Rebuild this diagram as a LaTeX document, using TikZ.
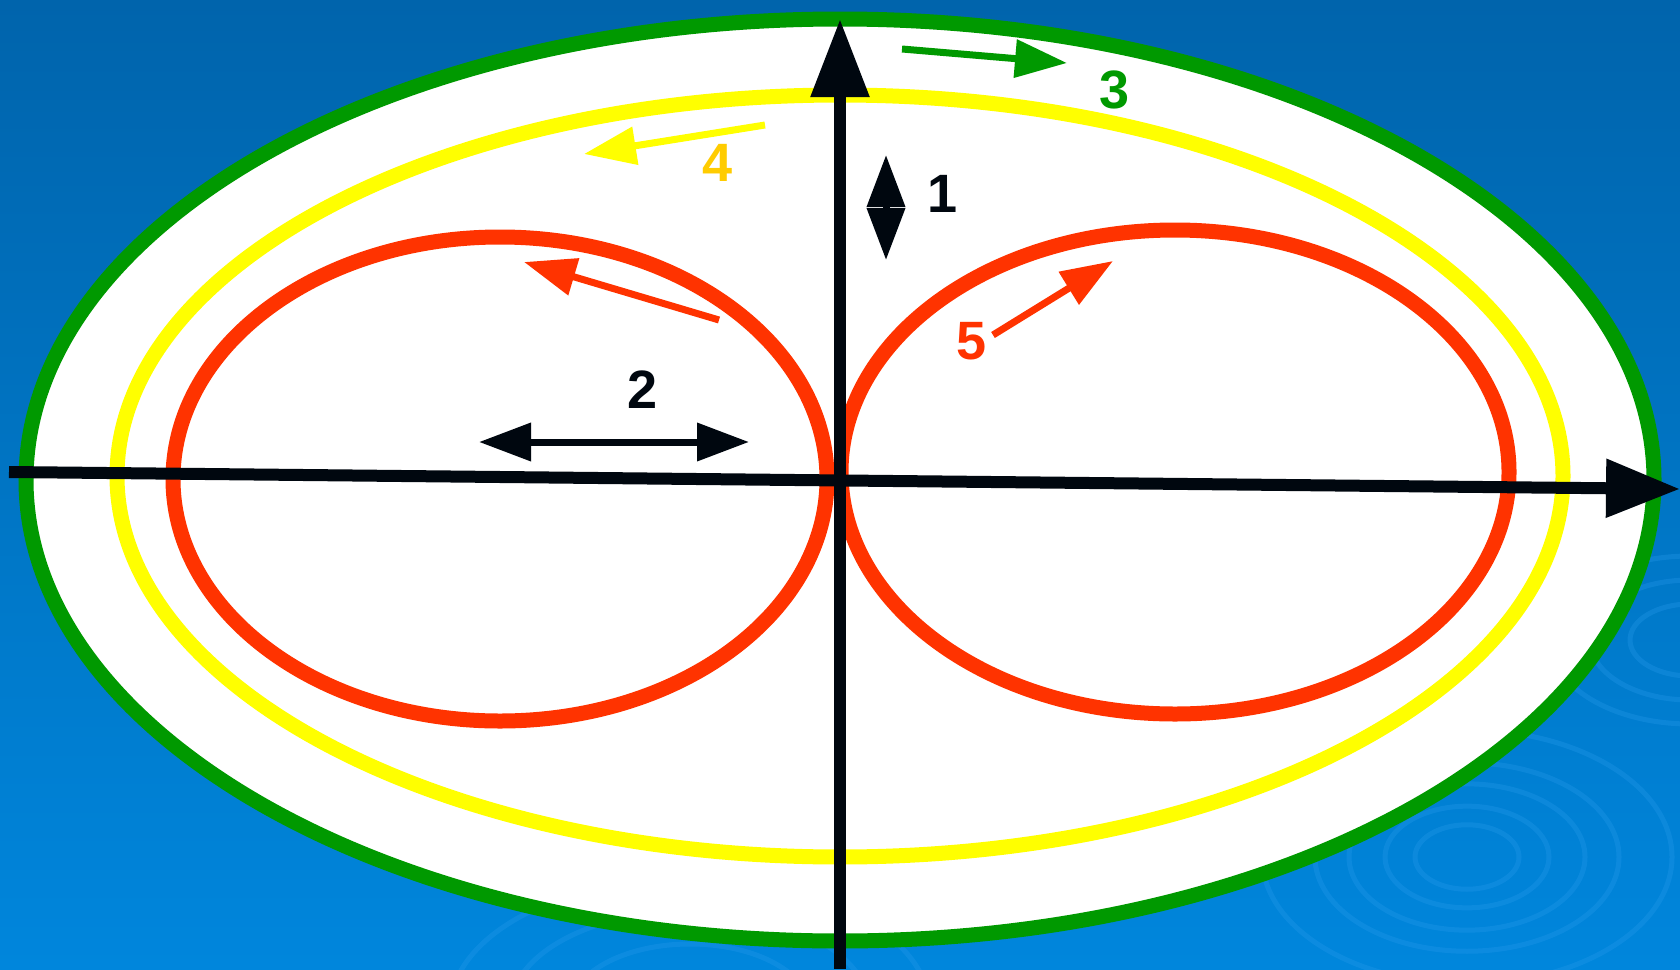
\documentclass[tikz,border=0pt]{standalone}
\usepackage{fontspec}
\setmainfont{Liberation Sans}
\usetikzlibrary{arrows.meta}
\definecolor{SeaTop}{HTML}{0064AC}
\definecolor{SeaBot}{HTML}{0086DC}
\definecolor{RippleClr}{HTML}{2A9CEC}
\definecolor{OuterClr}{HTML}{009900}
\definecolor{MiddleClr}{HTML}{FFFF00}
\definecolor{GoldClr}{HTML}{FFCC00}
\definecolor{InnerClr}{HTML}{FF3300}
\definecolor{AxisClr}{HTML}{00070F}

\begin{document}
\begin{tikzpicture}[x=1pt,y=-1pt,
  axis/.style={line width=12pt,color=AxisClr,-{Triangle[length=74pt,width=56pt]}},
  orbit/.style={line width=15pt},
  motion/.style={line width=7pt,-{Triangle[length=52pt,width=37pt]}},
  twoway/.style={line width=7pt,{Triangle[length=52pt,width=37pt]}-{Triangle[length=52pt,width=37pt]}},
  ripple/.style={line width=5pt,color=RippleClr,opacity=.3},
  num/.style={font=\bfseries\fontsize{54}{54}\selectfont,inner sep=0pt}]
\useasboundingbox (0,0) rectangle (1680,969);
\clip (0,0) rectangle (1680,969);

% sea
\shade[top color=SeaTop,bottom color=SeaBot] (0,0) rectangle (1680,969);
\foreach \r in {52,82,118,152,205}
  \draw[ripple] (1467,857) ellipse ({\r} and {0.62*\r});
\foreach \r in {60,100,140}
  \draw[ripple] (1690,640) ellipse ({\r} and {0.6*\r});
\foreach \r in {120,180,240}
  \draw[ripple] (690,1010) ellipse ({\r} and {0.55*\r});

% orbits
\draw[orbit,OuterClr,fill=white] (840,480) ellipse (814 and 461);
\draw[orbit,MiddleClr] (840,476) ellipse (723 and 381);
\draw[orbit,InnerClr] (500,479) ellipse (327 and 242);
\draw[orbit,InnerClr] (1175,472) ellipse (334 and 242);

% axes
\coordinate (W) at (9,472);
\coordinate (E) at (1680,489);
\coordinate (S) at (840,969);
\coordinate (N) at (840,19);
\draw[axis] (W) -- (E);
\draw[axis,-{Triangle[length=78pt,width=56pt]}] (S) -- (N);

% motions
\coordinate (a1) at (886,155);
\coordinate (b1) at (886,260);
\coordinate (a2) at (479,442);
\coordinate (b2) at (749,442);
\coordinate (a3) at (902,49);
\coordinate (b3) at (1067,63);
\coordinate (a4) at (765,125);
\coordinate (b4) at (584,154);
\coordinate (a5) at (993,335);
\coordinate (b5) at (1113,261);
\coordinate (a6) at (719,320);
\coordinate (b6) at (524,262);

\draw[twoway,AxisClr] (a1) -- (b1);
\draw[twoway,AxisClr] (a2) -- (b2);
\draw[motion,OuterClr] (a3) -- (b3);
\draw[motion,MiddleClr] (a4) -- (b4);
\draw[motion,InnerClr] (a5) -- (b5);
\draw[motion,InnerClr] (a6) -- (b6);

\node[num,AxisClr] (one) at (943,194) {1};
\node[num,AxisClr] (two) at (643,390) {2};
\node[num,OuterClr] (three) at (1115,90) {3};
\node[num,GoldClr] (four) at (718,163) {4};
\node[num,InnerClr] (five) at (972,341) {5};

\end{tikzpicture}
\end{document}
